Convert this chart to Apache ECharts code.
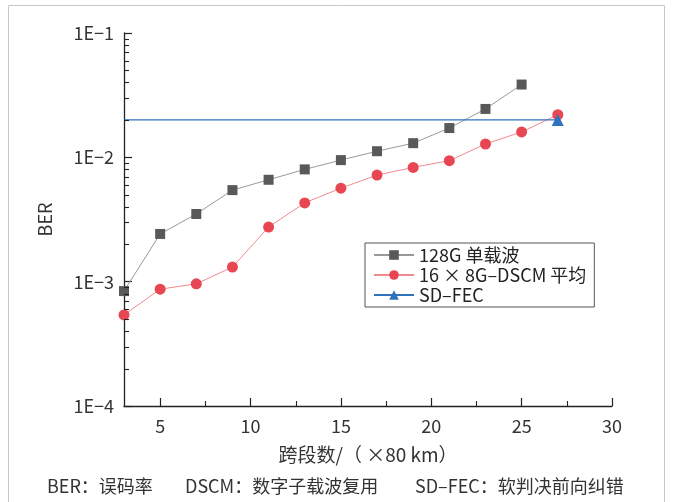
<!DOCTYPE html>
<html><head><meta charset="utf-8">
<script src="https://cdn.jsdelivr.net/npm/echarts@6/dist/echarts.min.js"></script>
<style>html,body{margin:0;padding:0;background:#fff}#c{width:673px;height:502px}</style>
</head><body><div id="c"></div>
<script>
const spans = [3,5,7,9,11,13,15,17,19,21,23,25,27];
const berSingle = [8.4e-4,2.42e-3,3.5e-3,5.45e-3,6.6e-3,8.0e-3,9.5e-3,1.12e-2,1.30e-2,1.72e-2,2.45e-2,3.85e-2];
const berDSCM = [5.4e-4,8.7e-4,9.6e-4,1.31e-3,2.75e-3,4.3e-3,5.65e-3,7.2e-3,8.3e-3,9.4e-3,1.28e-2,1.6e-2,2.2e-2];
const fecX = [3,27];
const fecValue = 2.0e-2;
const seriesNames = ['128G 单载波','16 × 8G–DSCM 平均','SD–FEC'];
const xTicks = [5,10,15,20,25,30];
const xMinor = [7.5,12.5,17.5,22.5,27.5];
const yTicks = [1e-4,1e-3,1e-2,1e-1];
const yMinor = [];
[1e-4,1e-3,1e-2].forEach(d=>{for(let k=2;k<=9;k++) yMinor.push(+(d*k).toPrecision(3));});
const footnotes = ['BER：误码率','DSCM：数字子载波复用','SD–FEC：软判决前向纠错'];

const font = '"Noto Sans CJK SC","Noto Sans",sans-serif';
const chart = echarts.init(document.getElementById('c'));
const axisLine = {show:true,lineStyle:{color:'#222',width:1.3}};
const baseGraphics = [{
    type:'rect',shape:{x:8.5,y:5.5,width:656,height:520},
    style:{fill:null,stroke:'#c8c8c8',lineWidth:1},silent:true
  },{
    type:'text',left:47,top:477,
    style:{text:footnotes[0],fontSize:18,fill:'#333',fontFamily:font}
  },{
    type:'text',left:185,top:477,
    style:{text:footnotes[1],fontSize:18,fill:'#333',fontFamily:font}
  },{
    type:'text',left:415,top:477,
    style:{text:footnotes[2],fontSize:18,fill:'#333',fontFamily:font}
  }];
chart.setOption({
  animation:false,
  textStyle:{fontFamily:font},
  grid:{left:124,top:33,right:61,bottom:96},
  xAxis:{
    type:'value',min:3,max:30,
    name:'跨段数/（ ×80 km）',nameLocation:'middle',nameGap:39,
    nameTextStyle:{fontSize:19,color:'#333',fontFamily:font},
    axisLine:axisLine,
    axisTick:{show:true,inside:true,length:8,customValues:xTicks,lineStyle:{color:'#222',width:1.2}},
    axisLabel:{customValues:xTicks,fontSize:18,color:'#333',margin:11},
    splitLine:{show:false}
  },
  yAxis:{
    type:'log',logBase:10,min:1e-4,max:1e-1,
    name:'BER',nameLocation:'middle',nameGap:70,nameRotate:90,
    nameTextStyle:{fontSize:18,color:'#333',fontFamily:font},
    axisLine:axisLine,
    axisTick:{show:true,inside:true,length:8,customValues:yTicks,lineStyle:{color:'#222',width:1.2}},
    axisLabel:{customValues:yTicks,fontSize:18,color:'#333',margin:10,formatter:v=>{
      const e=Math.round(Math.log10(v));return '1E−'+(-e);}},
    splitLine:{show:false}
  },
  legend:{
    orient:'vertical',left:365,top:243,width:218,
    padding:[3,8,3,8],itemGap:2,itemWidth:40,itemHeight:12,
    borderColor:'#555',borderWidth:1,
    textStyle:{fontSize:18,color:'#222',fontFamily:font},
    data:seriesNames
  },
  series:[{
    name:seriesNames[0],type:'line',
    data:berSingle.map((v,i)=>[spans[i],v]),
    symbol:'rect',symbolSize:10,
    itemStyle:{color:'#595959'},lineStyle:{color:'#999',width:1},
    z:3
  },{
    name:seriesNames[1],type:'line',
    data:berDSCM.map((v,i)=>[spans[i],v]),
    symbol:'circle',symbolSize:11,
    itemStyle:{color:'#e84652'},lineStyle:{color:'#f08a8f',width:1},
    z:4
  },{
    name:seriesNames[2],type:'line',
    data:fecX.map((x,i)=>i===fecX.length-1?{value:[x,fecValue]}:{value:[x,fecValue],symbol:'none'}),
    symbol:'triangle',symbolSize:12,
    itemStyle:{color:'#2f72be'},lineStyle:{color:'#2f72be',width:1.3},
    z:5
  }],
  graphic:baseGraphics
});
// minor ticks positioned through the axes' own scales
const x0 = chart.convertToPixel({xAxisIndex:0}, 3);
const y0 = chart.convertToPixel({yAxisIndex:0}, 1e-4);
const tickG = [];
xMinor.forEach(v=>{
  const px = Math.round(chart.convertToPixel({xAxisIndex:0}, v))+0.5;
  tickG.push({type:'line',shape:{x1:px,y1:y0,x2:px,y2:y0-5},style:{stroke:'#222',lineWidth:1.1},z:10,silent:true});
});
yMinor.forEach(v=>{
  const py = Math.round(chart.convertToPixel({yAxisIndex:0}, v))+0.5;
  tickG.push({type:'line',shape:{x1:x0,y1:py,x2:x0+5,y2:py},style:{stroke:'#222',lineWidth:1.1},z:10,silent:true});
});
chart.setOption({graphic:baseGraphics.concat(tickG)});
</script></body></html>
